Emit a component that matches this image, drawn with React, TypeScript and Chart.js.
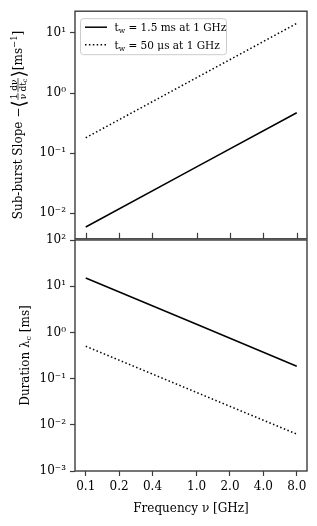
import React, { useEffect, useRef } from "react";
import { Chart, registerables } from "chart.js";
Chart.register(...registerables);

// ---- data ----
const freqGHz = [0.1, 1.0, 8.0];
const slopeLong = [0.0059, 0.059, 0.47]; // t_w = 1.5 ms at 1 GHz
const slopeShort = [0.18, 1.8, 14.4]; // t_w = 50 µs at 1 GHz
const durLong = [15, 1.5, 0.185];
const durShort = [0.5, 0.05, 0.0063];
const xTicks = [0.1, 0.2, 0.4, 1.0, 2.0, 4.0, 8.0];
const topYTicks = [0.01, 0.1, 1, 10];
const bottomYTicks = [0.001, 0.01, 0.1, 1, 10, 100];
const legendLong = " = 1.5 ms at 1 GHz";
const legendShort = " = 50 μs at 1 GHz";
const xTitle = "Frequency ν [GHz]";

const FONT = "'DejaVu Serif', serif";
const AXIS = "#3c3c3c";
const DOT = [1.5, 2.4];

const SUP = "⁰¹²³⁴⁵⁶⁷⁸⁹";
const pow10 = (v: number) => {
  const e = Math.round(Math.log10(v));
  return "10" + String(e).replace("-", "⁻").replace(/\d/g, (d) => SUP[+d]);
};

type Seg = { t?: string; s: number; dy?: number; frac?: [Seg[], Seg[]] };

function segW(ctx: CanvasRenderingContext2D, g: Seg): number {
  if (g.frac) return Math.max(runW(ctx, g.frac[0]), runW(ctx, g.frac[1])) + 2;
  ctx.font = `${g.s}px ${FONT}`;
  return ctx.measureText(g.t || "").width;
}
function runW(ctx: CanvasRenderingContext2D, run: Seg[]) {
  return run.reduce((a, g) => a + segW(ctx, g), 0);
}
function drawRun(ctx: CanvasRenderingContext2D, run: Seg[], x: number, y: number) {
  let cx = x;
  for (const g of run) {
    const w = segW(ctx, g);
    if (g.frac) {
      const nw = runW(ctx, g.frac[0]);
      const dw = runW(ctx, g.frac[1]);
      const bar = y - 4;
      drawRun(ctx, g.frac[0], cx + (w - nw) / 2, bar - 1.5);
      drawRun(ctx, g.frac[1], cx + (w - dw) / 2, bar + 7.5);
      ctx.save();
      ctx.lineWidth = 0.7;
      ctx.strokeStyle = "#000";
      ctx.beginPath();
      ctx.moveTo(cx + 0.5, bar);
      ctx.lineTo(cx + w - 0.5, bar);
      ctx.stroke();
      ctx.restore();
    } else {
      ctx.font = `${g.s}px ${FONT}`;
      ctx.fillText(g.t || "", cx, y + (g.dy || 0));
    }
    cx += w;
  }
}
function drawRotated(ctx: CanvasRenderingContext2D, run: Seg[], baseX: number, cy: number) {
  ctx.save();
  ctx.fillStyle = "#000";
  ctx.textBaseline = "alphabetic";
  ctx.textAlign = "left";
  ctx.translate(baseX, cy);
  ctx.rotate(-Math.PI / 2);
  const w = runW(ctx, run);
  drawRun(ctx, run, -w / 2, 0);
  ctx.restore();
}

const topTitle: Seg[] = [
  { t: "Sub-burst Slope −", s: 12 },
  { t: "⟨", s: 19, dy: 3 },
  { s: 9, frac: [[{ t: "1", s: 9 }], [{ t: "ν", s: 9 }]] },
  { s: 9, frac: [[{ t: "dν", s: 9 }], [{ t: "dt", s: 9 }, { t: "c", s: 6.5, dy: 1.5 }]] },
  { t: "⟩", s: 19, dy: 3 },
  { t: "[ms", s: 12 },
  { t: "−1", s: 8.5, dy: -5 },
  { t: "]", s: 12 },
];
const bottomTitle: Seg[] = [
  { t: "Duration λ", s: 12 },
  { t: "c", s: 8, dy: 2 },
  { t: " [ms]", s: 12 },
];

const framePlugin = (innerTicks: boolean, title: Seg[], titleX: number) => ({
  id: "frame",
  afterDraw(chart: any) {
    const { ctx, chartArea: a, scales } = chart;
    ctx.save();
    ctx.strokeStyle = AXIS;
    ctx.lineWidth = 1.4;
    ctx.strokeRect(a.left, a.top, a.right - a.left, a.bottom - a.top);
    if (innerTicks) {
      ctx.lineWidth = 1.2;
      for (const v of xTicks) {
        const px = Math.round(scales.x.getPixelForValue(v)) + 0.5;
        ctx.beginPath();
        ctx.moveTo(px, a.bottom);
        ctx.lineTo(px, a.bottom - 6);
        ctx.stroke();
      }
    }
    ctx.restore();
    drawRotated(ctx, title, titleX, (a.top + a.bottom) / 2);
  },
});

const legendPlugin = {
  id: "legendBox",
  afterDraw(chart: any) {
    const ctx: CanvasRenderingContext2D = chart.ctx;
    const a = chart.chartArea;
    const x = a.left + 5.5, y = a.top + 7.5, w = 146, h = 36;
    ctx.save();
    ctx.fillStyle = "rgba(255,255,255,0.85)";
    ctx.strokeStyle = "#cccccc";
    ctx.lineWidth = 1;
    ctx.beginPath();
    (ctx as any).roundRect(x, y, w, h, 3);
    ctx.fill();
    ctx.stroke();
    const rows: [string, boolean, number][] = [
      [legendLong, false, y + 8.5],
      [legendShort, true, y + 26],
    ];
    for (const [label, dotted, ry] of rows) {
      ctx.strokeStyle = "#000";
      ctx.lineWidth = 1.5;
      ctx.setLineDash(dotted ? DOT : []);
      ctx.beginPath();
      ctx.moveTo(x + 4.5, ry);
      ctx.lineTo(x + 26.5, ry);
      ctx.stroke();
      ctx.setLineDash([]);
      ctx.fillStyle = "#000";
      ctx.textBaseline = "alphabetic";
      drawRun(ctx, [{ t: "t", s: 10.5 }, { t: "w", s: 7.5, dy: 2 }, { t: label, s: 10.5 }], x + 34, ry + 4);
    }
    ctx.restore();
  },
};

const pts = (ys: number[]) => freqGHz.map((x, i) => ({ x, y: ys[i] }));

const lineDs = (ys: number[], dotted: boolean) => ({
  data: pts(ys),
  borderColor: "#000",
  borderWidth: 1.5,
  borderDash: dotted ? DOT : [],
  pointRadius: 0,
  tension: 0,
  fill: false,
});

const yScale = (min: number, max: number, ticks: number[]) => ({
  type: "logarithmic" as const,
  min,
  max,
  afterBuildTicks: (s: any) => {
    s.ticks = ticks.map((v) => ({ value: v }));
  },
  afterFit: (s: any) => {
    s.width = 75;
  },
  border: { display: false },
  grid: { drawOnChartArea: false, drawTicks: true, tickLength: 5, tickColor: AXIS, tickWidth: 1.2 },
  ticks: {
    color: "#000",
    padding: 4,
    font: { family: FONT, size: 12 },
    callback: (v: any) => pow10(Number(v)),
  },
  title: { display: false },
});

export default function App() {
  const topRef = useRef<HTMLCanvasElement>(null);
  const botRef = useRef<HTMLCanvasElement>(null);

  useEffect(() => {
    const top = new Chart(topRef.current!, {
      type: "line",
      data: { datasets: [lineDs(slopeLong, false), lineDs(slopeShort, true)] as any },
      options: {
        responsive: false,
        animation: false,
        layout: { padding: { left: 0, top: 8, right: 10, bottom: 10 } },
        plugins: { legend: { display: false }, tooltip: { enabled: false } },
        scales: {
          x: { type: "logarithmic", min: 0.08, max: 9.9, display: false },
          y: yScale(0.00375, 23, topYTicks) as any,
        },
      },
      plugins: [framePlugin(true, topTitle, 22), legendPlugin],
    });
    const bot = new Chart(botRef.current!, {
      type: "line",
      data: { datasets: [lineDs(durLong, false), lineDs(durShort, true)] as any },
      options: {
        responsive: false,
        animation: false,
        layout: { padding: { left: 0, top: 15, right: 10, bottom: 0 } },
        plugins: { legend: { display: false }, tooltip: { enabled: false } },
        scales: {
          x: {
            type: "logarithmic",
            min: 0.08,
            max: 9.9,
            afterBuildTicks: (s: any) => {
              s.ticks = xTicks.map((v) => ({ value: v }));
            },
            afterFit: (s: any) => {
              s.height = 55;
            },
            border: { display: false },
            grid: { drawOnChartArea: false, drawTicks: true, tickLength: 5, tickColor: AXIS, tickWidth: 1.2 },
            ticks: {
              color: "#000",
              padding: 4,
              maxRotation: 0,
              autoSkip: false,
              font: { family: FONT, size: 12 },
              callback: (v: any) => Number(v).toFixed(1),
            },
            title: {
              display: true,
              text: xTitle,
              color: "#000",
              font: { family: FONT, size: 12 },
              padding: { top: 0, bottom: 10 },
            },
          } as any,
          y: yScale(0.001, 100, bottomYTicks) as any,
        },
      },
      plugins: [framePlugin(false, bottomTitle, 29)],
    });
    return () => {
      top.destroy();
      bot.destroy();
    };
  }, []);

  return (
    <div style={{ position: "absolute", left: 0, top: 0, width: 317, height: 526, background: "#fff" }}>
      <canvas ref={topRef} width={317} height={250} style={{ position: "absolute", left: 0, top: 0 }} />
      <canvas ref={botRef} width={317} height={301} style={{ position: "absolute", left: 0, top: 225 }} />
    </div>
  );
}
